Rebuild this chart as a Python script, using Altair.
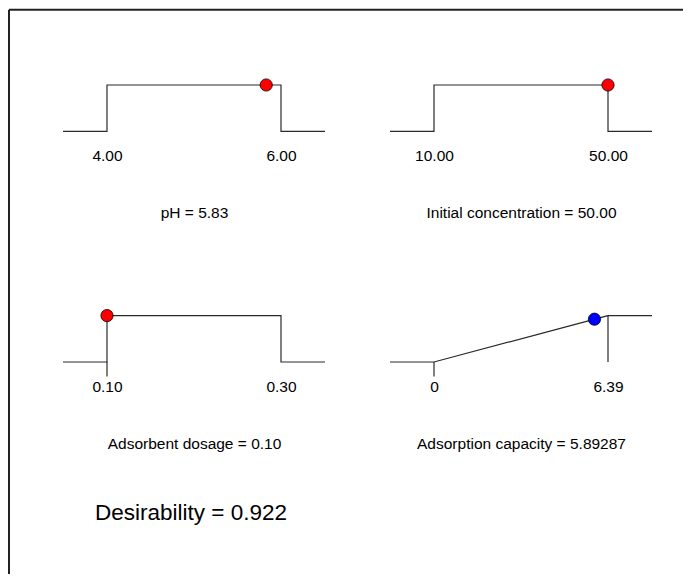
import altair as alt
import pandas as pd

# ---- data ----
factors = ["pH", "Initial concentration", "Adsorbent dosage", "Adsorption capacity"]
lows = [4.00, 10.00, 0.10, 0.0]
highs = [6.00, 50.00, 0.30, 6.39]
current = [5.83, 50.00, 0.10, 5.89287]
current_text = ["5.83", "50.00", "0.10", "5.89287"]
current_d = [1.0, 1.0, 1.0, 0.922]
low_labels = ["4.00", "10.00", "0.10", "0"]
high_labels = ["6.00", "50.00", "0.30", "6.39"]
goals = ["range", "range", "range", "maximize"]
point_colors = ["#ff0000", "#ff0000", "#ff0000", "#0000ff"]
has_stub = [False, False, True, True]
desirability = 0.922

# ---- styling / layout ----
FONT = "Liberation Sans"
EXT = 44.0 / 174.0          # horizontal extension beyond low/high
STUB = -0.31                # stub length below baseline (desirability units)
PW, PH = 262, 46.4          # plot area per panel
LINE = "#2a2a2a"


def ramp_path(lo, hi, goal):
    e = (hi - lo) * EXT
    if goal == "range":
        xs = [lo - e, lo, lo, hi, hi, hi + e]
        ds = [0, 0, 1, 1, 0, 0]
    else:
        xs = [lo - e, lo, hi, hi, hi, hi + e]
        ds = [0, 0, 1, 0, 1, 1]
    return pd.DataFrame({"x": xs, "d": ds, "step": list(range(len(xs)))})


def panel(i):
    lo, hi = lows[i], highs[i]
    e = (hi - lo) * EXT
    xscale = alt.Scale(domain=[lo - e, hi + e], nice=False, zero=False)
    yscale = alt.Scale(domain=[0, 1], nice=False, zero=False)
    label_expr = f"datum.value == {hi} ? '{high_labels[i]}' : '{low_labels[i]}'"
    xaxis = alt.Axis(
        values=[lo, hi], labelExpr=label_expr,
        title=f"{factors[i]} = {current_text[i]}",
        domain=False, ticks=False, grid=False,
        labelPadding=17, titlePadding=42, labelOverlap=False, labelFlush=False,
        labelFont=FONT, labelFontSize=15.5, labelColor="black",
        titleFont=FONT, titleFontSize=15.5, titleFontWeight="normal", titleColor="black",
    )
    path = alt.Chart(ramp_path(lo, hi, goals[i])).mark_line(
        color=LINE, strokeWidth=1.2
    ).encode(
        x=alt.X("x:Q", scale=xscale, axis=xaxis),
        y=alt.Y("d:Q", scale=yscale, axis=None),
        order="step:Q",
    )
    layers = [path]
    if has_stub[i]:
        stub = alt.Chart(pd.DataFrame({"x": [lo], "d": [0.0], "d2": [STUB]})).mark_rule(
            color=LINE, strokeWidth=1.2
        ).encode(
            x=alt.X("x:Q", scale=xscale),
            y=alt.Y("d:Q", scale=yscale),
            y2="d2:Q",
        )
        layers.append(stub)
    pt = alt.Chart(pd.DataFrame({"x": [current[i]], "d": [current_d[i]]})).mark_circle(
        size=150, color=point_colors[i], opacity=1, stroke="black", strokeWidth=0.8
    ).encode(
        x=alt.X("x:Q", scale=xscale),
        y=alt.Y("d:Q", scale=yscale),
    )
    layers.append(pt)
    return layers


p1 = panel(0)
# frame (decoration): left and top border lines
frame_df = pd.DataFrame({"k": [0]})
frame_top = alt.Chart(frame_df).mark_rule(color="#222222", strokeWidth=2).encode(
    x=alt.value(-54), x2=alt.value(620), y=alt.value(-75.3)
)
frame_left = alt.Chart(frame_df).mark_rule(color="#222222", strokeWidth=2).encode(
    x=alt.value(-54), y=alt.value(-75.3), y2=alt.value(489)
)
c1 = alt.layer(*p1, frame_top, frame_left).properties(width=PW, height=PH)
c2 = alt.layer(*panel(1)).properties(width=PW, height=PH)

des_df = pd.DataFrame({"label": [f"Desirability = {desirability:.3f}"]})
des_text = alt.Chart(des_df).mark_text(
    align="left", baseline="alphabetic", font=FONT, fontSize=22.5, color="black"
).encode(text="label:N", x=alt.value(32), y=alt.value(204))
c3 = alt.layer(*panel(2), des_text).properties(width=PW, height=PH)
c4 = alt.layer(*panel(3)).properties(width=PW, height=PH)

chart = alt.concat(
    c1, c2, c3, c4, columns=2, bounds="flush",
    spacing={"row": 183.6, "column": 65},
).resolve_scale(x="independent", y="independent").configure_view(
    stroke=None
).properties(padding=0, background="white")

chart.save("out.html", embed_options={"renderer": "svg", "actions": False})
